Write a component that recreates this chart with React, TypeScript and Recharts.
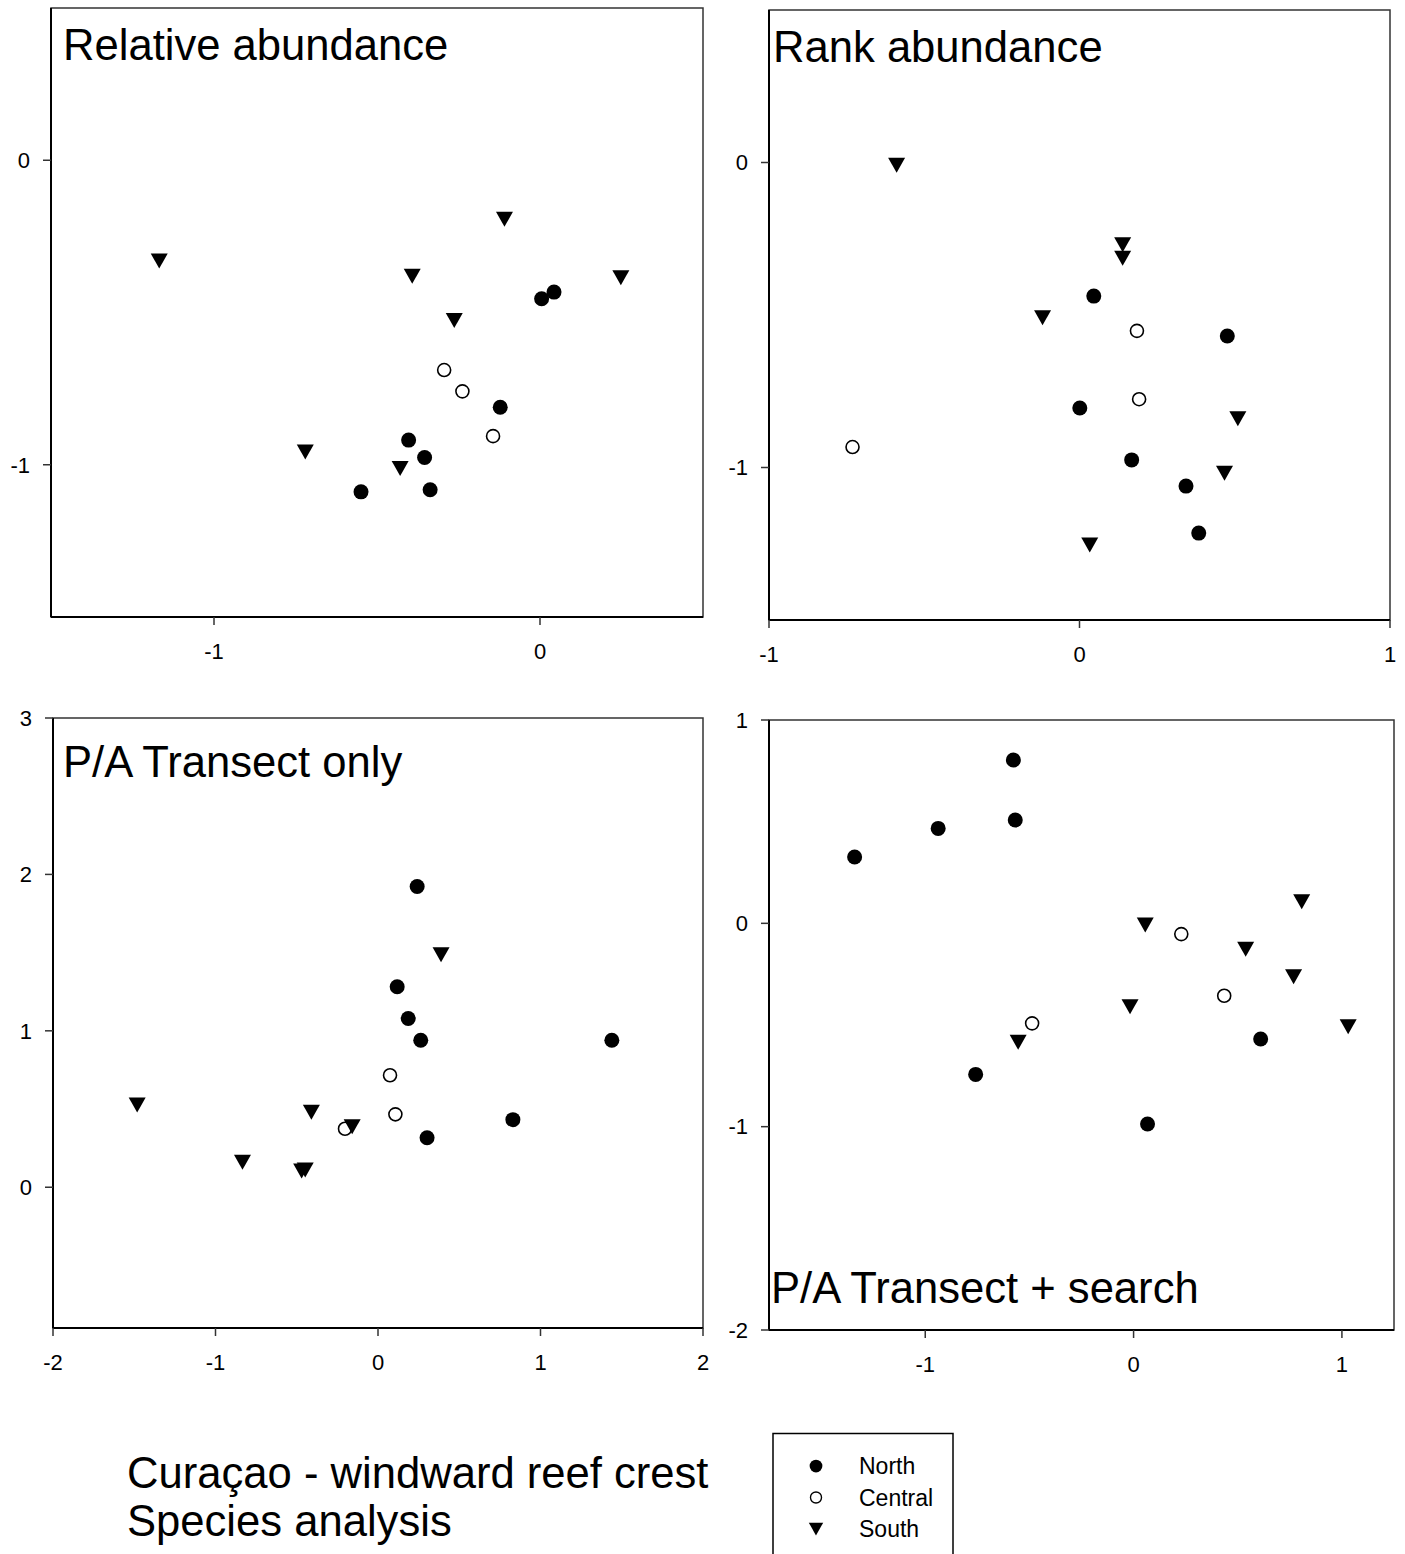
import React from "react";
import { ScatterChart, Scatter, XAxis, YAxis, ReferenceArea } from "recharts";

const FONT = '"Liberation Sans", Arial, Helvetica, sans-serif';

type Pt = { x: number; y: number };

// Relative abundance
const relNorth: Pt[] = [
  { x: 0.005, y: -0.455 }, { x: 0.043, y: -0.433 }, { x: -0.122, y: -0.811 },
  { x: -0.403, y: -0.919 }, { x: -0.354, y: -0.976 }, { x: -0.337, y: -1.082 },
  { x: -0.549, y: -1.089 },
];
const relCentral: Pt[] = [
  { x: -0.294, y: -0.689 }, { x: -0.238, y: -0.759 }, { x: -0.144, y: -0.906 },
];
const relSouth: Pt[] = [
  { x: -1.168, y: -0.331 }, { x: -0.109, y: -0.194 }, { x: -0.392, y: -0.381 },
  { x: 0.248, y: -0.386 }, { x: -0.263, y: -0.526 }, { x: -0.72, y: -0.958 },
  { x: -0.429, y: -1.012 },
];

// Rank abundance
const rankNorth: Pt[] = [
  { x: 0.046, y: -0.438 }, { x: 0.476, y: -0.569 }, { x: 0.001, y: -0.805 },
  { x: 0.168, y: -0.975 }, { x: 0.343, y: -1.061 }, { x: 0.384, y: -1.215 },
];
const rankCentral: Pt[] = [
  { x: 0.185, y: -0.552 }, { x: 0.192, y: -0.776 }, { x: -0.731, y: -0.933 },
];
const rankSouth: Pt[] = [
  { x: -0.589, y: -0.009 }, { x: 0.139, y: -0.27 }, { x: 0.139, y: -0.314 },
  { x: -0.119, y: -0.509 }, { x: 0.51, y: -0.84 }, { x: 0.467, y: -1.019 },
  { x: 0.033, y: -1.254 },
];

// P/A transect only
const paNorth: Pt[] = [
  { x: 0.241, y: 1.923 }, { x: 0.118, y: 1.282 }, { x: 0.186, y: 1.079 },
  { x: 0.263, y: 0.94 }, { x: 1.439, y: 0.94 }, { x: 0.83, y: 0.432 },
  { x: 0.302, y: 0.316 },
];
const paCentral: Pt[] = [
  { x: 0.074, y: 0.716 }, { x: 0.107, y: 0.466 }, { x: -0.203, y: 0.374 },
];
const paSouth: Pt[] = [
  { x: 0.388, y: 1.487 }, { x: -1.482, y: 0.526 }, { x: -0.41, y: 0.479 },
  { x: -0.159, y: 0.387 }, { x: -0.834, y: 0.16 }, { x: -0.47, y: 0.104 },
  { x: -0.448, y: 0.11 },
];

// P/A transect + search
const pasNorth: Pt[] = [
  { x: -0.577, y: 0.803 }, { x: -0.568, y: 0.508 }, { x: -0.938, y: 0.467 },
  { x: -1.339, y: 0.326 }, { x: 0.61, y: -0.569 }, { x: -0.758, y: -0.743 },
  { x: 0.067, y: -0.987 },
];
const pasCentral: Pt[] = [
  { x: 0.229, y: -0.053 }, { x: 0.435, y: -0.356 }, { x: -0.487, y: -0.492 },
];
const pasSouth: Pt[] = [
  { x: 0.807, y: 0.106 }, { x: 0.056, y: -0.008 }, { x: 0.538, y: -0.128 },
  { x: 0.768, y: -0.263 }, { x: -0.017, y: -0.41 }, { x: 1.03, y: -0.509 },
  { x: -0.554, y: -0.585 },
];

const relXTicks = [-1, 0];
const relYTicks = [-1, 0];
const rankXTicks = [-1, 0, 1];
const rankYTicks = [-1, 0];
const paXTicks = [-2, -1, 0, 1, 2];
const paYTicks = [0, 1, 2, 3];
const pasXTicks = [-1, 0, 1];
const pasYTicks = [-2, -1, 0, 1];

const legendItems = ["North", "Central", "South"];

const Dot = (p: any) => <circle cx={p.cx} cy={p.cy} r={7.5} fill="#000" />;
const Ring = (p: any) => (
  <circle cx={p.cx} cy={p.cy} r={6.5} fill="#fff" stroke="#000" strokeWidth={1.6} />
);
const Tri = (p: any) => (
  <polygon
    points={`${p.cx - 8.5},${p.cy - 7.5} ${p.cx + 8.5},${p.cy - 7.5} ${p.cx},${p.cy + 7.5}`}
    fill="#000"
  />
);

const panels = [
  {
    title: "Relative abundance", tx: 63, ty: 60,
    left: 0, top: 0, width: 710, height: 680,
    margin: { top: 8, right: 7, bottom: 0, left: 0 }, yWidth: 51, xHeight: 63,
    xDomain: [-1.5, 0.5], yDomain: [-1.5, 0.5], xTicks: relXTicks, yTicks: relYTicks,
    north: relNorth, central: relCentral, south: relSouth,
  },
  {
    title: "Rank abundance", tx: 773, ty: 62,
    left: 710, top: 0, width: 695, height: 680,
    margin: { top: 10, right: 15, bottom: 0, left: 0 }, yWidth: 59, xHeight: 60,
    xDomain: [-1, 1], yDomain: [-1.5, 0.5], xTicks: rankXTicks, yTicks: rankYTicks,
    north: rankNorth, central: rankCentral, south: rankSouth,
  },
  {
    title: "P/A Transect only", tx: 63, ty: 777,
    left: 0, top: 680, width: 710, height: 720,
    margin: { top: 38, right: 7, bottom: 0, left: 0 }, yWidth: 53, xHeight: 72,
    xDomain: [-2, 2], yDomain: [-0.9, 3], xTicks: paXTicks, yTicks: paYTicks,
    north: paNorth, central: paCentral, south: paSouth,
  },
  {
    title: "P/A Transect + search", tx: 771, ty: 1303,
    left: 710, top: 680, width: 695, height: 720,
    margin: { top: 40, right: 11, bottom: 0, left: 0 }, yWidth: 59, xHeight: 70,
    xDomain: [-1.75, 1.25], yDomain: [-2, 1], xTicks: pasXTicks, yTicks: pasYTicks,
    north: pasNorth, central: pasCentral, south: pasSouth,
  },
];

const tickStyle = { fill: "#000", fontSize: 22, fontFamily: FONT };

function Panel({ p }: { p: (typeof panels)[number] }) {
  return (
    <div style={{ position: "absolute", left: p.left, top: p.top }}>
      <ScatterChart width={p.width} height={p.height} margin={p.margin}>
        <XAxis
          type="number" dataKey="x" domain={p.xDomain} ticks={p.xTicks} allowDataOverflow
          interval={0} height={p.xHeight} tickSize={8} tickMargin={18} tick={tickStyle}
          axisLine={{ stroke: "#000", strokeWidth: 2 }} tickLine={{ stroke: "#333", strokeWidth: 1.5 }}
        />
        <YAxis
          type="number" dataKey="y" domain={p.yDomain} ticks={p.yTicks} allowDataOverflow
          interval={0} width={p.yWidth} tickSize={8} tickMargin={13} tick={tickStyle}
          axisLine={{ stroke: "#000", strokeWidth: 2 }} tickLine={{ stroke: "#333", strokeWidth: 1.5 }}
        />
        <ReferenceArea
          x1={p.xDomain[0]} x2={p.xDomain[1]} y1={p.yDomain[0]} y2={p.yDomain[1]}
          fill="none" fillOpacity={0} stroke="#333" strokeWidth={1.5} ifOverflow="visible"
        />
        <Scatter data={p.north} shape={Dot} isAnimationActive={false} />
        <Scatter data={p.central} shape={Ring} isAnimationActive={false} />
        <Scatter data={p.south} shape={Tri} isAnimationActive={false} />
      </ScatterChart>
    </div>
  );
}

export default function App() {
  const legendShapes = [Dot, Ring, Tri];
  return (
    <div style={{ position: "absolute", left: 0, top: 0, width: 1405, height: 1554, overflow: "hidden", background: "#fff" }}>
      {panels.map((p) => (
        <Panel key={p.title} p={p} />
      ))}
      <svg width={1405} height={1554} style={{ position: "absolute", left: 0, top: 0, pointerEvents: "none" }}>
        <g fontFamily={FONT} fill="#000">
          {panels.map((p) => (
            <text key={p.title} x={p.tx} y={p.ty} fontSize={43.6}>{p.title}</text>
          ))}
          <text x={127} y={1488} fontSize={43.6}>Curaçao - windward reef crest</text>
          <text x={127} y={1536} fontSize={43.6}>Species analysis</text>
        </g>
        <rect x={773} y={1433.5} width={180} height={200} fill="#fff" stroke="#000" strokeWidth={1.5} />
        {legendItems.map((name, i) => {
          const cy = 1466 + i * 31.5;
          const S = legendShapes[i];
          return (
            <g key={name}>
              <g transform={`translate(816 ${cy}) scale(0.85) translate(-816 ${-cy})`}>
                <S cx={816} cy={cy} />
              </g>
              <text x={859} y={cy + 8} fontSize={23} fontFamily={FONT}>{name}</text>
            </g>
          );
        })}
      </svg>
    </div>
  );
}
